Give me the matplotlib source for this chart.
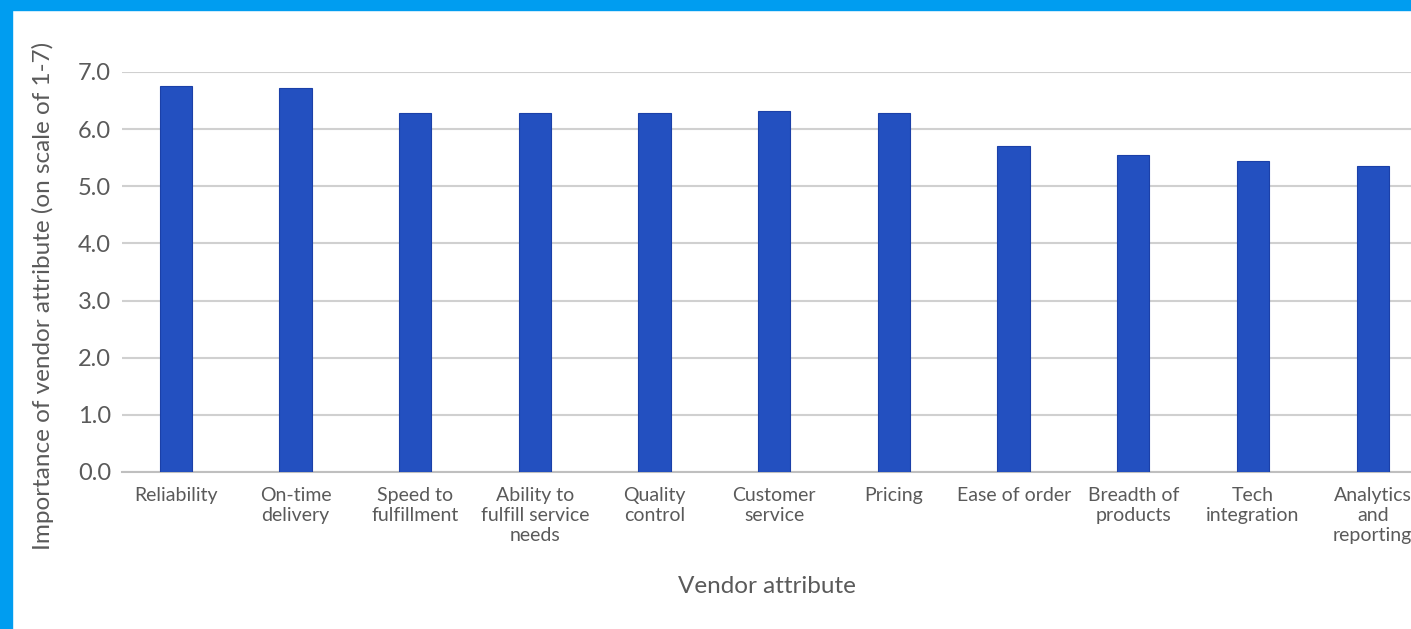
import matplotlib
matplotlib.use("Agg")
import matplotlib.pyplot as plt
from matplotlib.patches import Rectangle

attributes = ["Reliability", "On-time\ndelivery", "Speed to\nfulfillment",
              "Ability to\nfulfill service\nneeds", "Quality\ncontrol",
              "Customer\nservice", "Pricing", "Ease of order", "Breadth of\nproducts",
              "Tech\nintegration", "Analytics\nand\nreporting"]
importance = [6.76, 6.72, 6.28, 6.28, 6.28, 6.32, 6.28, 5.70, 5.55, 5.45, 5.36]
yticks = [0.0, 1.0, 2.0, 3.0, 4.0, 5.0, 6.0, 7.0]

plt.rcParams['font.family'] = ['Lato', 'DejaVu Sans']
grey = '#5a5a5a'

fig = plt.figure(figsize=(14.11, 6.29), dpi=100)
ax = fig.add_axes([122/1411, 1-472/629, 1-122/1411, (472-72)/629])

x = range(len(attributes))
ax.bar(x, importance, width=0.27, color='#2350C0', edgecolor='#1B40A8', linewidth=0.8, zorder=3)

ax.set_ylim(0, 7)
ax.set_xlim(-0.45, len(attributes) - 0.68)
ax.set_yticks(yticks)
ax.set_yticklabels([f"{v:.1f}" for v in yticks], fontsize=17, color=grey)
ax.set_xticks(list(x))
ax.set_xticklabels(attributes, fontsize=14, color=grey, linespacing=1.2)
ax.tick_params(axis='both', length=0)
ax.tick_params(axis='x', pad=11)
ax.tick_params(axis='y', pad=8)

ax.grid(axis='y', color='#d0d0d0', linewidth=1.5, zorder=0)
for s in ['top', 'right', 'left']:
    ax.spines[s].set_visible(False)
ax.spines['bottom'].set_color('#bfbfbf')
ax.spines['bottom'].set_linewidth(1.5)

ax.set_ylabel("Importance of vendor attribute (on scale of 1-7)", fontsize=17.5, color=grey)
ax.yaxis.set_label_coords(-0.053, 0.44)
ax.set_xlabel("Vendor attribute", fontsize=17.5, color=grey, labelpad=23)

# blue frame along top and left edge
fig.patches.append(Rectangle((0, 1-10/629), 1, 10/629, transform=fig.transFigure, color='#009DF0', zorder=10))
fig.patches.append(Rectangle((0, 0), 12/1411, 1, transform=fig.transFigure, color='#009DF0', zorder=10))

fig.savefig("out.png", dpi=100)
